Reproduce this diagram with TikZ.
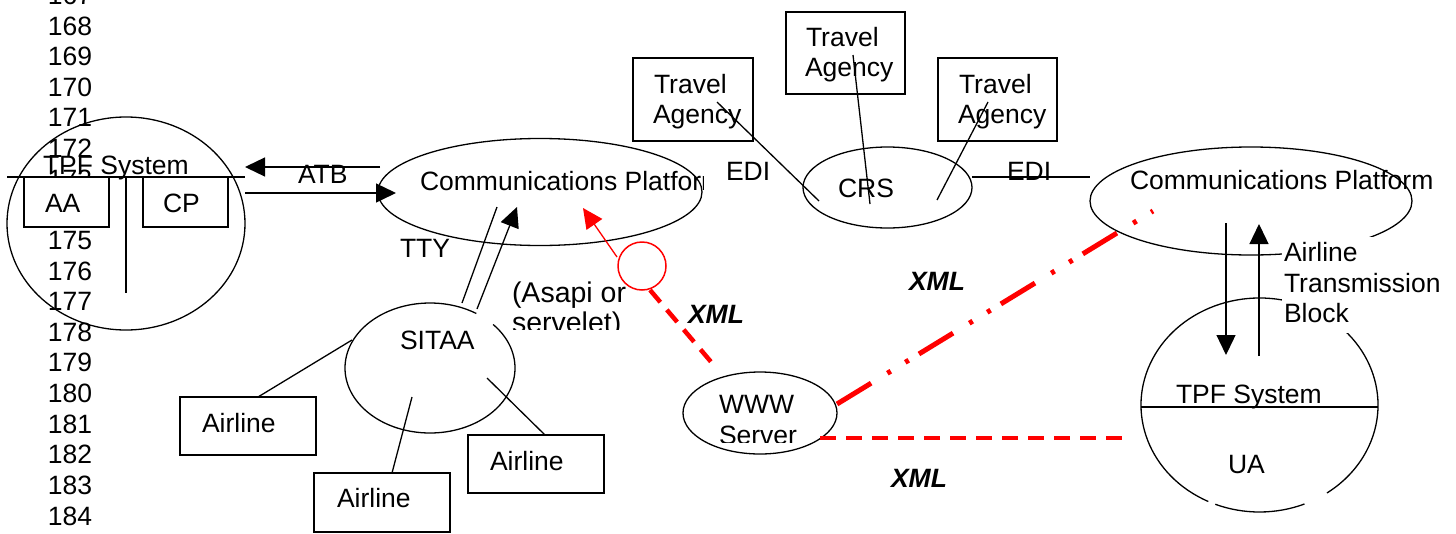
\documentclass[tikz,border=0pt]{standalone}
\usepackage{fontspec}
\setmainfont{Liberation Sans}
\usetikzlibrary{arrows.meta,shapes.geometric}
\begin{document}
\begin{tikzpicture}[x=1pt,y=-1pt,
  lw/.style={line width=1.3pt},
  txt/.style={inner sep=0pt,outer sep=0pt,anchor=base west,font=\fontsize{26.5}{30.6}\selectfont},
  bigtxt/.style={inner sep=0pt,outer sep=0pt,anchor=base west,font=\fontsize{28.5}{33}\selectfont},
  numtxt/.style={inner sep=0pt,outer sep=0pt,anchor=base east,font=\fontsize{26.5}{30.6}\selectfont},
  xmltxt/.style={inner sep=0pt,outer sep=0pt,anchor=base west,font=\fontsize{26.5}{30.6}\selectfont\bfseries\itshape},
  oval/.style={ellipse,draw,line width=1.3pt,inner sep=0pt,outer sep=0pt},
  ovalnone/.style={ellipse,inner sep=0pt,outer sep=0pt},
  boxw/.style={rectangle,draw,fill=white,line width=1.3pt,inner sep=0pt,outer sep=0pt},
  arr/.style={line width=1.3pt,-{Triangle[length=20pt,width=19pt]}},
  redarr/.style={red,line width=1.3pt,-{Triangle[length=20pt,width=19pt]}},
  reddash/.style={red,line width=4.5pt,dash pattern=on 16pt off 10pt},
  reddashdot/.style={red,line width=5pt,dash pattern=on 40pt off 19pt on 4pt off 17pt on 4pt off 12pt},
]
\useasboundingbox (0,0) rectangle (1456,533);

% line numbers
\foreach \n in {167,...,184}{
  \node[numtxt] (ln\n) at (92,{35+(\n-168)*30.63}) {\n};
}

% left TPF system
\node[oval,minimum width=238pt,minimum height=213pt] (tpfL) at (126,223.5) {};
\coordinate (hlL) at (7,177); \coordinate (hlR) at (245,177);
\draw[lw] (hlL) -- (hlR);
\coordinate (vlT) at (126,177); \coordinate (vlB) at (126,293);
\draw[lw] (vlT) -- (vlB);
\node[boxw,minimum width=85pt,minimum height=50pt] (aa) at (66.5,202) {};
\node[boxw,minimum width=85pt,minimum height=50pt] (cp) at (185.5,202) {};
\node[txt] (aatxt) at (45,212) {AA};
\node[txt] (cptxt) at (163,212) {CP};
\node[txt] (tpfLtxt) at (43,174) {TPF System};

% ATB arrows
\coordinate (atb1s) at (380,167); \coordinate (atb1e) at (245,167);
\draw[arr] (atb1s) -- (atb1e);
\coordinate (atb2s) at (245,193); \coordinate (atb2e) at (396,193);
\draw[arr] (atb2s) -- (atb2e);
\node[txt] (atb) at (298,183) {ATB};

% left communications platform
\node[oval,minimum width=324pt,minimum height=107pt] (cpL) at (540,192) {};
\begin{scope}
  \clip (400,150) rectangle (703,240);
  \node[txt] (cpLtxt) at (420,190) {Communications Platform};
\end{scope}

% TTY
\node[txt] (tty) at (400,257) {TTY};
\coordinate (t1a) at (462,303); \coordinate (t1b) at (497,207);
\draw[lw] (t1a) -- (t1b);
\coordinate (t2a) at (477,309); \coordinate (t2b) at (517,207);
\draw[arr] (t2a) -- (t2b);

% SITAA
\node[ovalnone,minimum width=170pt,minimum height=130pt] (sitaa) at (430,368) {};
\draw[lw] (sitaa.center) ++(318:85 and 65) arc[start angle=318,end angle=663,x radius=85,y radius=65];
\node[txt] (sitaatxt) at (400,349) {SITAA};

% airlines
\node[boxw,minimum width=136pt,minimum height=58pt] (al1) at (248,426) {};
\node[boxw,minimum width=136pt,minimum height=59pt] (al2) at (382,502.5) {};
\node[boxw,minimum width=136pt,minimum height=58pt] (al3) at (536,464) {};
\node[txt] (al1txt) at (202,432) {Airline};
\node[txt] (al2txt) at (337,507) {Airline};
\node[txt] (al3txt) at (490,470) {Airline};
\coordinate (l1a) at (258,397); \coordinate (l1b) at (352,340);
\draw[lw] (l1a) -- (l1b);
\coordinate (l2a) at (392,473); \coordinate (l2b) at (412,397);
\draw[lw] (l2a) -- (l2b);
\coordinate (l3a) at (487,378); \coordinate (l3b) at (545,435);
\draw[lw] (l3a) -- (l3b);

% (Asapi or servelet)
\begin{scope}
  \clip (500,270) rectangle (680,329);
  \node[bigtxt] (asapi1) at (512,302) {(Asapi or};
  \node[bigtxt] (asapi2) at (512,332.5) {servelet)};
\end{scope}

% red link
\node[circle,draw=red,line width=1.5pt,minimum size=48pt,inner sep=0pt] (rc) at (642,266) {};
\coordinate (ra) at (617,257); \coordinate (rb) at (583,208);
\draw[redarr] (ra) -- (rb);
\coordinate (rd1) at (650,290); \coordinate (rd2) at (712,363);
\draw[reddash] (rd1) -- (rd2);
\node[xmltxt] (xml1) at (688,323) {XML};

% WWW server
\node[oval,minimum width=154pt,minimum height=82pt] (www) at (760,413) {};
\begin{scope}
  \clip (700,380) rectangle (820,442);
  \node[txt] (wwwtxt) at (719,413) {WWW};
  \node[txt] (servertxt) at (719,444) {Server};
\end{scope}
\coordinate (dd1) at (837,404); \coordinate (dd2) at (1153,211);
\draw[reddashdot] (dd1) -- (dd2);
\coordinate (hd1) at (820,438); \coordinate (hd2) at (1132,438);
\draw[reddash] (hd1) -- (hd2);
\node[xmltxt] (xml2) at (909,290) {XML};
\node[xmltxt] (xml3) at (891,487) {XML};

% CRS and travel agencies
\node[oval,minimum width=169pt,minimum height=81pt] (crs) at (887.5,187.5) {};
\node[txt] (crstxt) at (838,197) {CRS};
\node[boxw,minimum width=120pt,minimum height=83pt] (ta1) at (693,99.5) {};
\node[boxw,minimum width=119pt,minimum height=82pt] (ta2) at (845.5,53) {};
\node[boxw,minimum width=119pt,minimum height=83pt] (ta3) at (997.5,99.5) {};
\node[txt] (ta1a) at (654,93) {Travel};
\node[txt] (ta1b) at (653,123) {Agency};
\node[txt] (ta2a) at (806,46) {Travel};
\node[txt] (ta2b) at (805,76) {Agency};
\node[txt] (ta3a) at (959,93) {Travel};
\node[txt] (ta3b) at (958,123) {Agency};
\coordinate (c1a) at (717,102); \coordinate (c1b) at (819,201);
\draw[lw] (c1a) -- (c1b);
\coordinate (c2a) at (853,55); \coordinate (c2b) at (870,204);
\draw[lw] (c2a) -- (c2b);
\coordinate (c3a) at (988,102); \coordinate (c3b) at (937,200);
\draw[lw] (c3a) -- (c3b);
\node[txt] (edi1) at (726,180) {EDI};
\node[txt] (edi2) at (1007,180) {EDI};
\coordinate (e1) at (972,177); \coordinate (e2) at (1090,177);
\draw[lw] (e1) -- (e2);

% right communications platform and TPF system
\node[oval,minimum width=322pt,minimum height=108pt] (cpR) at (1251,201) {};
\node[txt] (cpRtxt) at (1130,189) {Communications Platform};
\node[ovalnone,minimum width=237pt,minimum height=214pt] (tpfR) at (1259.5,405) {};
\draw[lw] (tpfR.center) ++(67.7:118.5 and 107) arc[start angle=67.7,end angle=111.9,x radius=118.5,y radius=107];
\draw[lw] (tpfR.center) ++(115.6:118.5 and 107) arc[start angle=115.6,end angle=415.3,x radius=118.5,y radius=107];
\coordinate (h2a) at (1141,407); \coordinate (h2b) at (1378,407);
\draw[lw] (h2a) -- (h2b);
\node[txt] (tpfRtxt) at (1176,403) {TPF System};
\node[txt] (uatxt) at (1228,473) {UA};
\fill[white] (1282,236.5) rectangle (1445,333);
\node[txt] (atb1) at (1284,261) {Airline};
\node[txt] (atb2) at (1284,292) {Transmission};
\node[txt] (atb3) at (1284,322) {Block};
\coordinate (da) at (1226,223); \coordinate (db) at (1226,355);
\draw[arr] (da) -- (db);
\coordinate (ua) at (1259,356); \coordinate (ub) at (1259,224);
\draw[arr] (ua) -- (ub);
\end{tikzpicture}
\end{document}
